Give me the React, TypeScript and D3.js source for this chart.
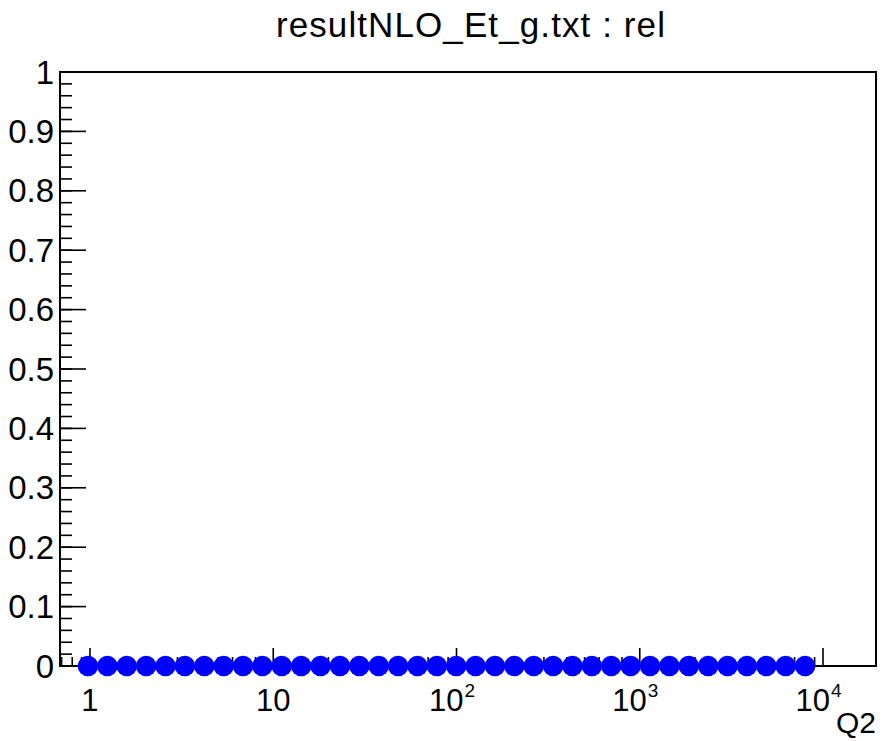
import React from "react";
import * as d3 from "d3";

const title = "resultNLO_Et_g.txt : rel";
const xAxisTitle = "Q2";

// Q2 values (log spaced bins) and the "rel" value at each
const q2Values = [
  0.975, 1.244, 1.587, 2.025, 2.582, 3.294, 4.204, 5.362, 6.841, 8.726,
  11.13, 14.21, 18.12, 23.12, 29.49, 37.62, 48.0, 61.23, 78.11, 99.63,
  127.1, 162.2, 206.9, 263.9, 336.7, 429.5, 548.0, 699.0, 891.8, 1137.6,
  1451.3, 1851.6, 2362, 3013, 3844, 4905, 6257, 7982,
];
const relValues = [
  0, 0, 0, 0, 0, 0, 0, 0, 0, 0,
  0, 0, 0, 0, 0, 0, 0, 0, 0, 0,
  0, 0, 0, 0, 0, 0, 0, 0, 0, 0,
  0, 0, 0, 0, 0, 0, 0, 0,
];

const xDomain = [0.686, 19460];
const yDomain = [0, 1];
const xMajorTicks = [1, 10, 100, 1000, 10000];
const xTickBase = ["1", "10", "10", "10", "10"];
const xTickExp = ["", "", "2", "3", "4"];
const yMajorTicks = [0, 0.1, 0.2, 0.3, 0.4, 0.5, 0.6, 0.7, 0.8, 0.9, 1];
const yTickLabels = ["0", "0.1", "0.2", "0.3", "0.4", "0.5", "0.6", "0.7", "0.8", "0.9", "1"];

const W = 887;
const H = 741;
const left = 60;
const right = 876;
const top = 72;
const bottom = 666;

export default function App() {
  const x = d3.scaleLog().domain(xDomain).range([left, right]);
  const y = d3.scaleLinear().domain(yDomain).range([bottom, top]);

  // minor ticks
  const yMinor: number[] = d3.range(0, 51).map((i) => i * 0.02);
  const xMinor: number[] = [];
  for (let e = -1; e <= 4; e++) {
    for (let m = 2; m <= 9; m++) {
      const v = m * Math.pow(10, e);
      if (v > xDomain[0] && v < xDomain[1]) xMinor.push(v);
    }
  }

  const font = "'Liberation Sans', Arial, Helvetica, sans-serif";

  return (
    <svg
      width={W}
      height={H}
      style={{ position: "absolute", left: 0, top: 0, background: "#fff" }}
      fontFamily={font}
    >
      <rect x={0} y={0} width={W} height={H} fill="#fff" />
      {/* title */}
      <text x={471} y={37} fontSize={35} letterSpacing={1.1} textAnchor="middle" fill="#000">
        {title}
      </text>

      {/* y ticks */}
      {yMinor.map((v, i) => (
        <line key={"ym" + i} x1={left} x2={left + 12} y1={y(v)} y2={y(v)} stroke="#000" strokeWidth={1.6} />
      ))}
      {yMajorTicks.map((v, i) => (
        <line key={"yM" + i} x1={left} x2={left + 26} y1={y(v)} y2={y(v)} stroke="#000" strokeWidth={1.6} />
      ))}
      {yMajorTicks.map((v, i) => (
        <text key={"yl" + i} x={54} y={y(v) + 11.5} fontSize={33} textAnchor="end" fill="#000">
          {yTickLabels[i]}
        </text>
      ))}

      {/* x ticks */}
      {xMinor.map((v, i) => (
        <line key={"xm" + i} x1={x(v)} x2={x(v)} y1={bottom} y2={bottom - 9} stroke="#000" strokeWidth={1.6} />
      ))}
      {xMajorTicks.map((v, i) => (
        <line key={"xM" + i} x1={x(v)} x2={x(v)} y1={bottom} y2={bottom - 18} stroke="#000" strokeWidth={1.6} />
      ))}
      {xMajorTicks.map((v, i) =>
        xTickExp[i] === "" ? (
          <text key={"xl" + i} x={x(v)} y={711} fontSize={31} textAnchor="middle" fill="#000">
            {xTickBase[i]}
          </text>
        ) : (
          <g key={"xl" + i}>
            <text x={x(v) + 7} y={711} fontSize={31} textAnchor="end" fill="#000">
              {xTickBase[i]}
            </text>
            <text x={x(v) + 8} y={697} fontSize={19} textAnchor="start" fill="#000">
              {xTickExp[i]}
            </text>
          </g>
        )
      )}
      <text x={right} y={733} fontSize={30} textAnchor="end" fill="#000">
        {xAxisTitle}
      </text>

      {/* frame */}
      <rect x={left} y={top} width={right - left} height={bottom - top} fill="none" stroke="#000" strokeWidth={2} />

      {/* markers */}
      {q2Values.map((v, i) => (
        <circle key={"p" + i} cx={x(v)} cy={y(relValues[i])} r={10.3} fill="#0000ff" />
      ))}
    </svg>
  );
}
